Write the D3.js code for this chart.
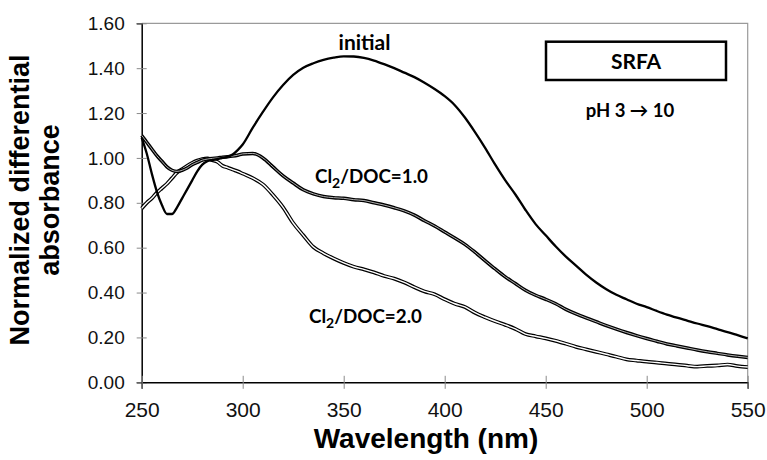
<!DOCTYPE html>
<html>
<head>
<meta charset="utf-8">
<script src="https://cdn.jsdelivr.net/npm/d3@7"></script>
<style>
  body { margin: 0; background: #fff; }
  svg { display: block; }
  .tick text { fill: #111; }
</style>
</head>
<body>
<div class="container"></div>
<script>
var width  = 767;
var height = 460;

// wavelengths (nm), denser near the dip
var wavelength = [250, 252.5, 255, 257.5, 260, 262.5, 265, 267.5, 270, 272.5, 275, 277.5, 280, 282.5, 285, 287.5, 290, 292.5, 295, 297.5, 300,
  305, 310, 315, 320, 325, 330, 335, 340, 345, 350, 355, 360, 365, 370, 375, 380, 385, 390, 395, 400,
  405, 410, 415, 420, 425, 430, 435, 440, 445, 450, 455, 460, 465, 470, 475, 480, 485, 490, 495, 500,
  505, 510, 515, 520, 525, 530, 535, 540, 545, 550];

var initial = [1.09, 1.02, 0.93, 0.85, 0.79, 0.75, 0.75, 0.78, 0.82, 0.86, 0.90, 0.94, 0.97, 0.985, 0.99, 0.995, 1.00, 1.005, 1.015, 1.035, 1.06,
  1.135, 1.205, 1.27, 1.325, 1.37, 1.402, 1.422, 1.437, 1.447, 1.453, 1.452, 1.446, 1.434, 1.418, 1.40, 1.38, 1.36, 1.335, 1.307, 1.275,
  1.235, 1.18, 1.115, 1.045, 0.97, 0.90, 0.837, 0.768, 0.705, 0.655, 0.605, 0.56, 0.52, 0.48, 0.445, 0.415, 0.39, 0.37, 0.35, 0.335,
  0.318, 0.302, 0.288, 0.275, 0.262, 0.25, 0.237, 0.224, 0.21, 0.196];

var cl1 = [1.10, 1.07, 1.04, 1.01, 0.985, 0.96, 0.945, 0.94, 0.945, 0.955, 0.97, 0.98, 0.99, 0.995, 0.998, 1.0, 1.003, 1.005, 1.008, 1.012, 1.018,
  1.02, 1.0, 0.96, 0.92, 0.888, 0.858, 0.84, 0.828, 0.823, 0.82, 0.814, 0.81, 0.80, 0.79, 0.778, 0.764, 0.745, 0.72, 0.697, 0.67,
  0.643, 0.615, 0.58, 0.542, 0.505, 0.47, 0.44, 0.41, 0.388, 0.37, 0.35, 0.325, 0.305, 0.287, 0.27, 0.253, 0.237, 0.222, 0.208, 0.195,
  0.183, 0.171, 0.162, 0.153, 0.144, 0.136, 0.129, 0.122, 0.116, 0.111];

var cl2 = [0.775, 0.80, 0.82, 0.845, 0.865, 0.885, 0.91, 0.935, 0.95, 0.965, 0.978, 0.988, 0.995, 0.998, 0.99, 0.982, 0.965, 0.957, 0.948, 0.94, 0.93,
  0.91, 0.882, 0.835, 0.78, 0.71, 0.655, 0.603, 0.575, 0.552, 0.532, 0.515, 0.503, 0.49, 0.474, 0.462, 0.445, 0.424, 0.405, 0.392, 0.37,
  0.35, 0.336, 0.31, 0.29, 0.272, 0.256, 0.238, 0.215, 0.205, 0.196, 0.185, 0.172, 0.158, 0.147, 0.136, 0.125, 0.114, 0.102, 0.097, 0.092,
  0.088, 0.083, 0.079, 0.074, 0.07, 0.073, 0.075, 0.079, 0.072, 0.068];

var xTicks = [250, 300, 350, 400, 450, 500, 550];
var yTicks = [0, 0.2, 0.4, 0.6, 0.8, 1.0, 1.2, 1.4, 1.6];

var plot = {left: 141.7, top: 23.3, right: 747.7, bottom: 382.3};

var svg = d3.select(".container").append("svg")
  .attr("width", width)
  .attr("height", height);

var x = d3.scaleLinear().domain([250, 550]).range([plot.left, plot.right]);
var y = d3.scaleLinear().domain([0, 1.6]).range([plot.bottom, plot.top]);

// plot area frame (top/right grey)
svg.append("path")
  .attr("d", "M" + plot.left + "," + plot.top + "H" + plot.right + "V" + plot.bottom)
  .attr("fill", "none")
  .attr("stroke", "#9a9a9a")
  .attr("stroke-width", 1.2);

// axes
var yAxis = svg.append("g")
  .attr("transform", "translate(" + plot.left + ",0)")
  .call(d3.axisLeft(y).tickValues(yTicks).tickFormat(d3.format(".2f")).tickSize(5).tickPadding(12));
yAxis.select(".domain").attr("stroke", "#000").attr("stroke-width", 1.5);
yAxis.selectAll(".tick line").attr("x1", 5).attr("stroke", "#8a8a8a");
yAxis.selectAll(".tick text")
  .style("font-family", "Arial, 'Liberation Sans', sans-serif")
  .style("font-size", "19px");

var xAxis = svg.append("g")
  .attr("transform", "translate(0," + plot.bottom + ")")
  .call(d3.axisBottom(x).tickValues(xTicks).tickSize(6.5).tickPadding(10));
xAxis.select(".domain").attr("stroke", "#000").attr("stroke-width", 1.5);
xAxis.selectAll(".tick line").attr("y1", -6.5).attr("stroke", "#8a8a8a");
xAxis.selectAll(".tick text")
  .attr("y", 34.4).attr("dy", 0)
  .style("font-family", "Arial, 'Liberation Sans', sans-serif")
  .style("font-size", "21px");

// curves
function lineFor(values) {
  return d3.line()
    .x(function(d, i) { return x(wavelength[i]); })
    .y(function(d) { return y(d); })
    .curve(d3.curveMonotoneX)(values);
}

var curves = svg.append("g");

// double lines: black outline with light core
curves.append("path").attr("d", lineFor(cl2)).attr("fill", "none").attr("stroke", "#000").attr("stroke-width", 3.8);
curves.append("path").attr("d", lineFor(cl2)).attr("fill", "none").attr("stroke", "#fff").attr("stroke-width", 1.4);

curves.append("path").attr("d", lineFor(cl1)).attr("fill", "none").attr("stroke", "#000").attr("stroke-width", 3.5);
curves.append("path").attr("d", lineFor(cl1)).attr("fill", "none").attr("stroke", "#b0b0b0").attr("stroke-width", 1);

curves.append("path").attr("d", lineFor(initial)).attr("fill", "none").attr("stroke", "#000").attr("stroke-width", 2.3);

// annotations
var annoFont = "Lato, 'Open Sans', sans-serif";

svg.append("text")
  .attr("x", 364.5).attr("y", 50)
  .attr("text-anchor", "middle")
  .style("font-family", annoFont).style("font-weight", "bold").style("font-size", "21px")
  .text("initial");

function clLabel(xp, yp, ratio) {
  var t = svg.append("text")
    .attr("x", xp).attr("y", yp)
    .style("font-family", annoFont).style("font-weight", "bold").style("font-size", "18.8px");
  t.append("tspan").text("Cl");
  t.append("tspan").attr("dy", 5).style("font-size", "14px").text("2");
  t.append("tspan").attr("dy", -5).text("/DOC=" + ratio);
}
clLabel(315, 183, "1.0");
clLabel(309, 323, "2.0");

svg.append("rect")
  .attr("x", 546).attr("y", 41.7)
  .attr("width", 180).attr("height", 38.3)
  .attr("fill", "#fff")
  .attr("stroke", "#000")
  .attr("stroke-width", 2.5);

svg.append("text")
  .attr("x", 636).attr("y", 68.5)
  .attr("text-anchor", "middle")
  .style("font-family", annoFont).style("font-weight", "bold").style("font-size", "21px")
  .text("SRFA");

svg.append("text")
  .attr("x", 630).attr("y", 117)
  .attr("text-anchor", "middle")
  .style("font-family", annoFont).style("font-weight", "bold").style("font-size", "18.5px")
  .text("pH 3 \u2192 10");

// axis titles
svg.append("text")
  .attr("x", 426).attr("y", 448)
  .attr("text-anchor", "middle")
  .style("font-family", "Arial, 'Liberation Sans', sans-serif")
  .style("font-weight", "bold").style("font-size", "28px")
  .text("Wavelength (nm)");

var yTitle = svg.append("text")
  .attr("transform", "translate(29,200) rotate(-90)")
  .attr("text-anchor", "middle")
  .style("font-family", "Arial, 'Liberation Sans', sans-serif")
  .style("font-weight", "bold").style("font-size", "27px");
yTitle.append("tspan").attr("x", 0).attr("y", 0).text("Normalized differential");
yTitle.append("tspan").attr("x", 0).attr("y", 30).text("absorbance");
</script>
</body>
</html>
